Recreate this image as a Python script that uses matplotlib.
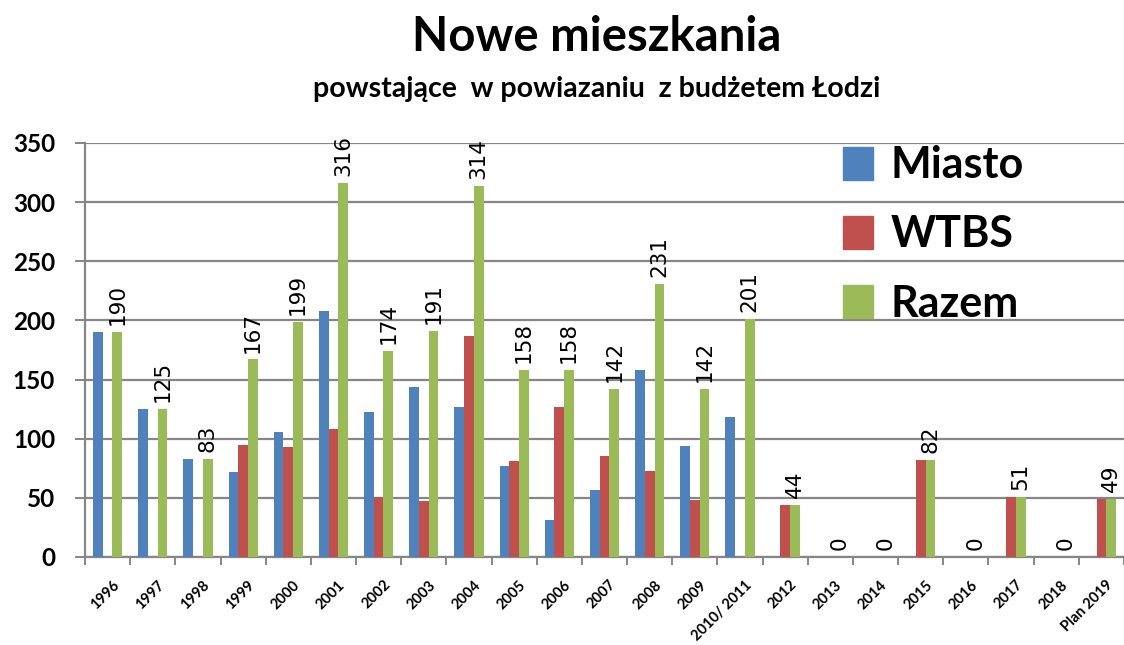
import numpy as np
import matplotlib
matplotlib.use("Agg")
import matplotlib.pyplot as plt
from matplotlib.patches import Patch

# dane
years = ["1996", "1997", "1998", "1999", "2000", "2001", "2002", "2003", "2004",
         "2005", "2006", "2007", "2008", "2009", "2010/ 2011", "2012", "2013",
         "2014", "2015", "2016", "2017", "2018", "Plan 2019"]
miasto = [190, 125, 83, 72, 106, 208, 123, 144, 127, 77, 31, 57, 158, 94, 118,
          0, 0, 0, 0, 0, 0, 0, 0]
wtbs = [0, 0, 0, 95, 93, 108, 51, 47, 187, 81, 127, 85, 73, 48, 0,
        44, 0, 0, 82, 0, 51, 0, 49]
razem = [190, 125, 83, 167, 199, 316, 174, 191, 314, 158, 158, 142, 231, 142, 201,
         44, 0, 0, 82, 0, 51, 0, 49]
yticks = [0, 50, 100, 150, 200, 250, 300, 350]

c_blue = "#4F81BD"
c_red = "#C0504D"
c_green = "#9BBB59"
c_grid = "#868686"
bold_font = "Lato"

W, H = 1124, 645
fig = plt.figure(figsize=(W / 100, H / 100), dpi=100)
ax = fig.add_axes([85 / W, (H - 557) / H, (W - 85) / W, (557 - 143) / H])

x = np.arange(len(years))
bw = 0.215
ax.bar(x - bw, miasto, bw, color=c_blue, zorder=3)
ax.bar(x, wtbs, bw, color=c_red, zorder=3)
gr = ax.bar(x + bw, razem, bw, color=c_green, zorder=3)
ax.bar_label(gr, fmt="%d", rotation=90, padding=5, fontsize=15.5,
             family="DejaVu Sans", color="black")

ax.set_ylim(0, 350)
ax.set_xlim(-0.5, -0.5 + (W - 85) / 45.6)
ax.set_yticks(yticks)
ax.set_yticklabels([str(v) for v in yticks], fontsize=17.5, fontweight="bold",
                   family=bold_font)
ax.yaxis.grid(True, color=c_grid, lw=1.6, zorder=0)
ax.tick_params(axis="y", length=7.5, width=1.4, color=c_grid, pad=14)

# podzialki na granicach kategorii, etykiety na srodku
ax.set_xticks(np.arange(len(years) + 1) - 0.5)
ax.set_xticklabels([])
ax.tick_params(axis="x", which="major", length=6, width=1.4, color=c_grid,
               direction="out")
ax.set_xticks(x + 0.1, minor=True)
ax.set_xticklabels(years, minor=True, rotation=45, ha="right",
                   rotation_mode="anchor", fontsize=10.5, fontweight="bold",
                   family=bold_font)
ax.tick_params(axis="x", which="minor", length=0, pad=15)

for s in ["top", "right"]:
    ax.spines[s].set_visible(False)
for s in ["left", "bottom"]:
    ax.spines[s].set_color(c_grid)
    ax.spines[s].set_linewidth(1.6)

handles = [Patch(color=c_blue, label="Miasto"),
           Patch(color=c_red, label="WTBS"),
           Patch(color=c_green, label="Razem")]
leg = ax.legend(handles=handles, loc="upper left",
                bbox_to_anchor=(843 / W, 1 - 145 / H), bbox_transform=fig.transFigure,
                frameon=False, handlelength=0.7, handleheight=0.8,
                handletextpad=0.4, labelspacing=0.68, borderpad=0, borderaxespad=0,
                prop={"family": bold_font, "weight": "bold", "size": 31})

fig.text(597 / W, 1 - 37 / H, "Nowe mieszkania", ha="center", va="center",
         fontsize=34, fontweight="bold", family=bold_font)
fig.text(597 / W, 1 - 89 / H, "powstające  w powiazaniu  z budżetem Łodzi",
         ha="center", va="center", fontsize=20.5, fontweight="bold", family=bold_font)

fig.savefig("out.png", dpi=100)
